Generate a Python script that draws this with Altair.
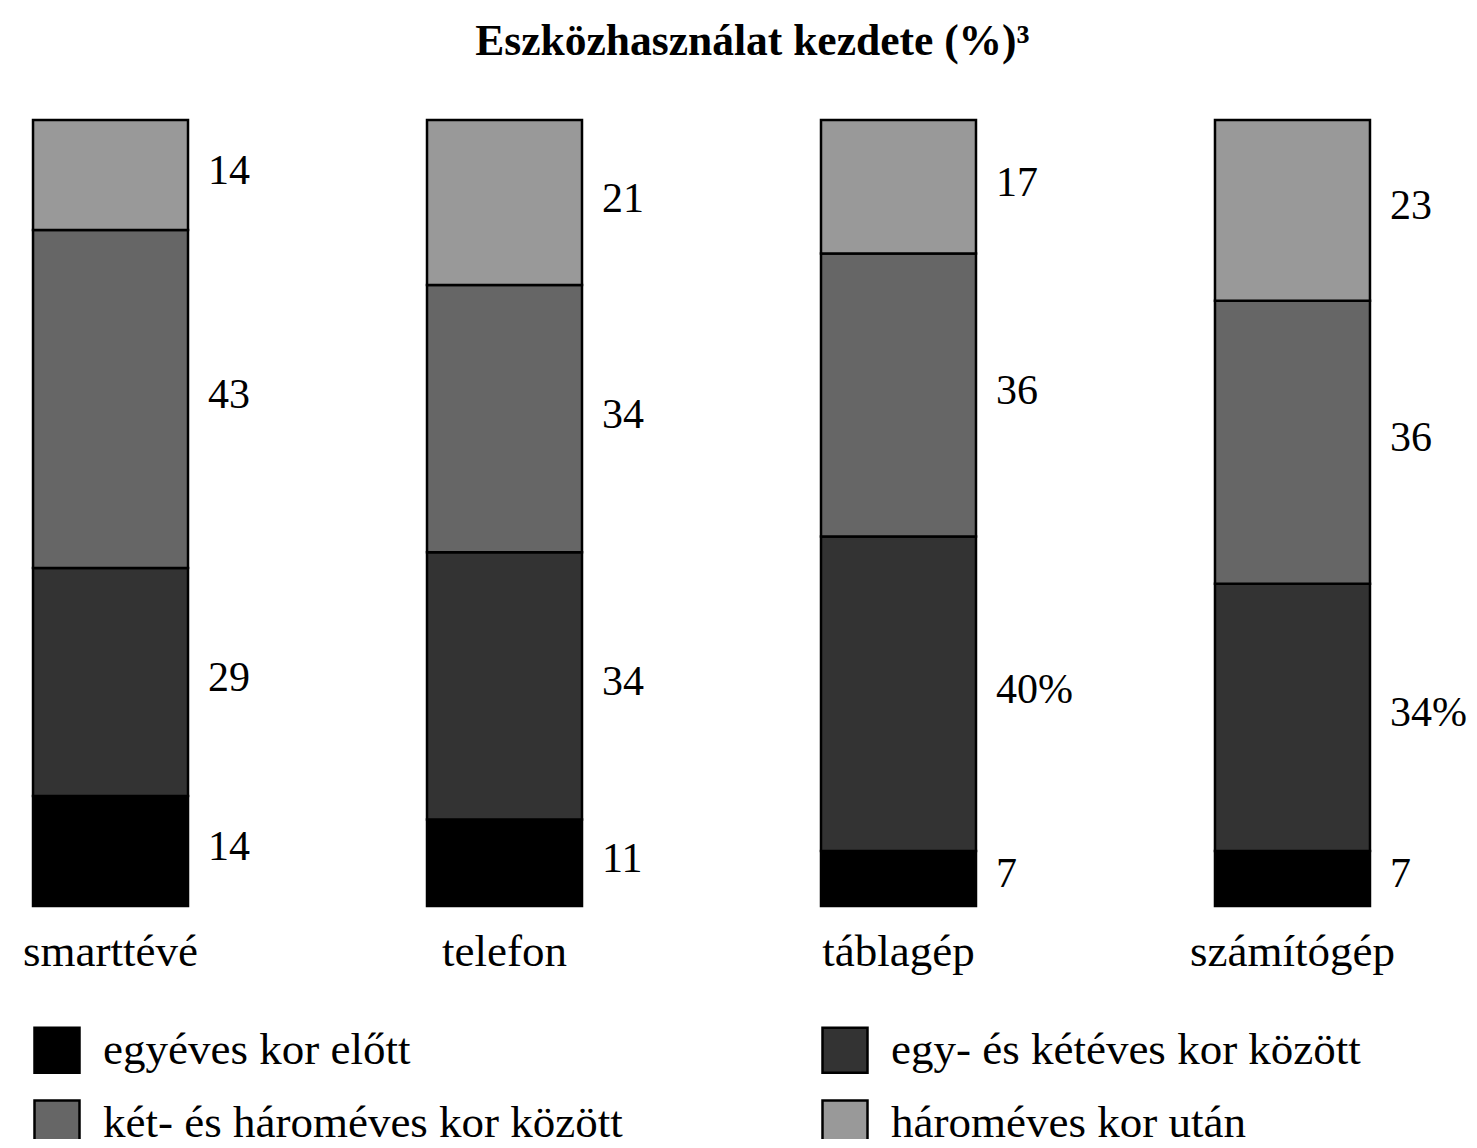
import altair as alt
import pandas as pd

categories = ["smarttévé", "telefon", "táblagép", "számítógép"]
groups = ["egyéves kor előtt", "egy- és kétéves kor között",
          "két- és hároméves kor között", "hároméves kor után"]
colors = ["#000000", "#333333", "#666666", "#999999"]

v_before1 = [14, 11, 7, 7]
v_1to2 = [29, 34, 40, 34]
v_2to3 = [43, 34, 36, 36]
v_after3 = [14, 21, 17, 23]

lab_before1 = ["14", "11", "7", "7"]
lab_1to2 = ["29", "34", "40%", "34%"]
lab_2to3 = ["43", "34", "36", "36"]
lab_after3 = ["14", "21", "17", "23"]

series = [v_before1, v_1to2, v_2to3, v_after3]
labels = [lab_before1, lab_1to2, lab_2to3, lab_after3]

rows = []
for gi, (g, vals, labs) in enumerate(zip(groups, series, labels)):
    for ci, c in enumerate(categories):
        rows.append({"cat": c, "group": g, "gi": gi, "value": vals[ci], "label": labs[ci]})
df = pd.DataFrame(rows)

FONT = "Liberation Serif"
FS = 45

xscale = alt.Scale(domain=categories, paddingInner=0.6066, paddingOuter=0.0635)
yscale = alt.Scale(domain=[0, 100], nice=False, zero=True)

base = alt.Chart(df)

bars = base.mark_bar(stroke="black", strokeWidth=2.5).encode(
    x=alt.X("cat:N", sort=categories, scale=xscale,
            axis=alt.Axis(title=None, labelFontSize=FS, labelFont=FONT, labelColor="black",
                          domain=False, ticks=False, labelPadding=23, labelAngle=0,
                          labelLimit=0)),
    y=alt.Y("value:Q", stack="zero", scale=yscale, axis=None),
    color=alt.Color("group:N", sort=groups,
                    scale=alt.Scale(domain=groups, range=colors),
                    legend=alt.Legend(title=None, orient="none", legendX=25, legendY=906,
                                      direction="horizontal", columns=2,
                                      symbolType="square", symbolSize=2025,
                                      symbolStrokeColor="black", symbolStrokeWidth=2.5,
                                      symbolOpacity=1,
                                      labelFont=FONT, labelFontSize=FS, labelColor="black",
                                      labelOffset=22, labelLimit=0,
                                      rowPadding=17, columnPadding=194)),
    order=alt.Order("gi:Q", sort="ascending"),
)

texts = base.transform_stack(
    stack="value", groupby=["cat"], sort=[alt.SortField("gi", order="ascending")], as_=["y0", "y1"]
).transform_calculate(
    mid="(datum.y0 + datum.y1) / 2"
).mark_text(align="left", baseline="middle", dx=20, dy=-4, font=FONT, fontSize=42, color="black").encode(
    x=alt.X("cat:N", sort=categories, scale=xscale, bandPosition=1),
    y=alt.Y("mid:Q", scale=yscale),
    text="label:N",
)

chart = alt.layer(bars, texts).properties(
    width=1387, height=786,
    title=alt.Title("Eszközhasználat kezdete (%)³", font=FONT, fontSize=43.5, fontWeight="bold",
                    color="black", anchor="middle", dx=51, offset=54),
    autosize=alt.AutoSizeParams(type="none"),
    padding={"left": 0, "top": 112, "right": 74, "bottom": 233},
).configure_view(stroke=None)

chart.save("out.html", embed_options={"renderer": "svg", "actions": False})
